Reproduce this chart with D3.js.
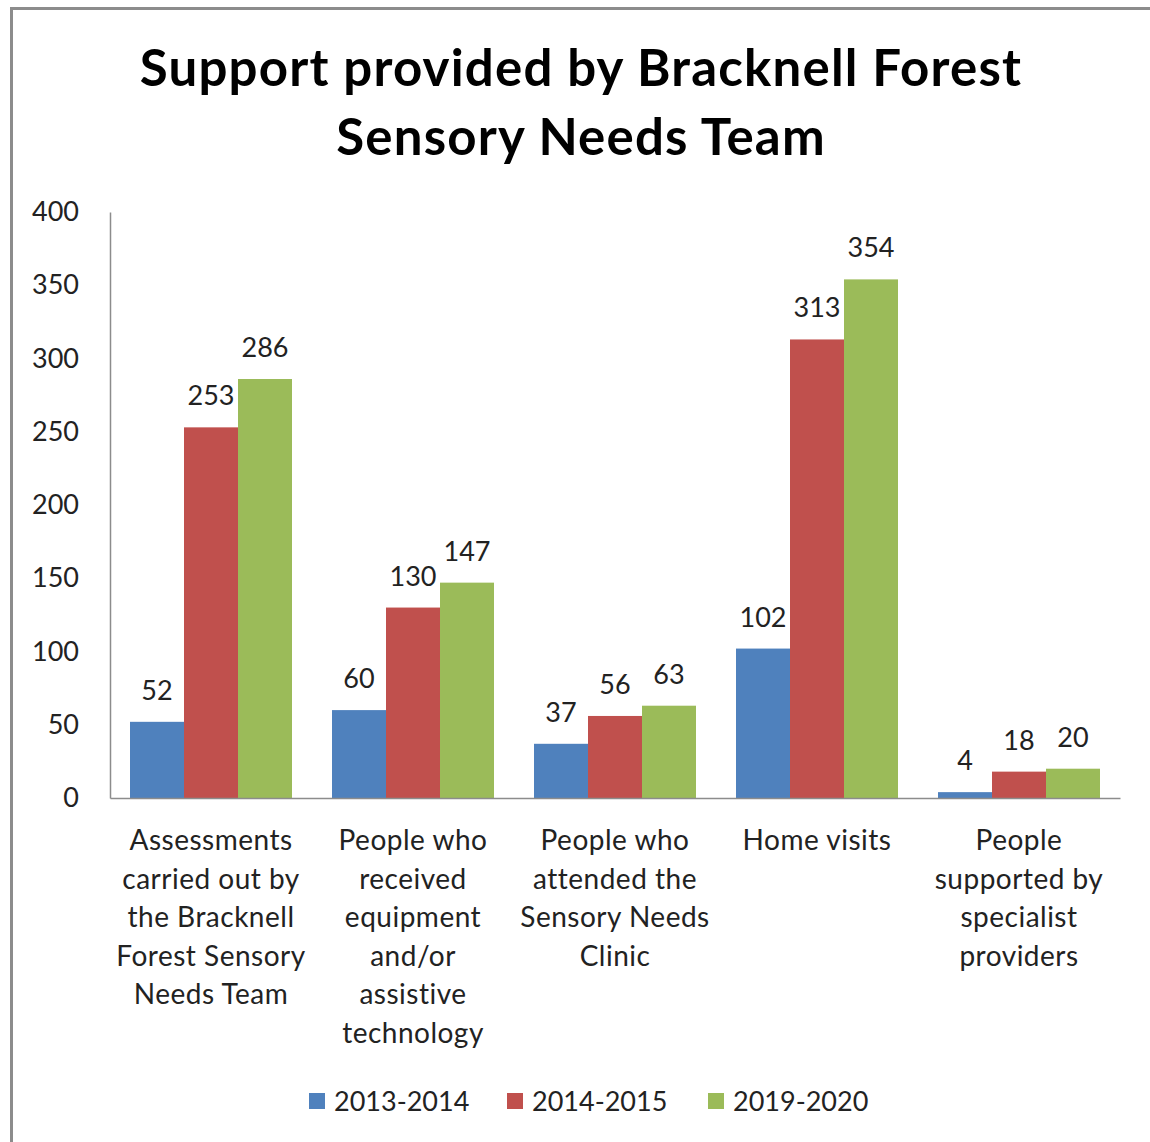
<!DOCTYPE html>
<html>
<head>
<meta charset="utf-8">
<script src="https://cdn.jsdelivr.net/npm/d3@7"></script>
<style>
  html, body { margin: 0; padding: 0; background: #fff; }
  svg { display: block; }
  text { font-family: Lato, "Open Sans", sans-serif; }
</style>
</head>
<body>
<svg id="chart" width="1150" height="1142"></svg>
<script>
// ---- data ----
const categories = [
  ["Assessments", "carried out by", "the Bracknell", "Forest Sensory", "Needs Team"],
  ["People who", "received", "equipment", "and/or", "assistive", "technology"],
  ["People who", "attended the", "Sensory Needs", "Clinic"],
  ["Home visits"],
  ["People", "supported by", "specialist", "providers"]
];
const seriesNames = ["2013-2014", "2014-2015", "2019-2020"];
const values2013 = [52, 60, 37, 102, 4];
const values2014 = [253, 130, 56, 313, 18];
const values2019 = [286, 147, 63, 354, 20];
const yTicks = [0, 50, 100, 150, 200, 250, 300, 350, 400];
const titleLines = ["Support provided by Bracknell Forest", "Sensory Needs Team"];
const colors = ["#4F81BD", "#C0504D", "#9BBB59"];

const seriesValues = [values2013, values2014, values2019];

const svg = d3.select("#chart");

// frame
svg.append("rect")
  .attr("x", 11.5).attr("y", 8.5)
  .attr("width", 1200).attr("height", 1200)
  .attr("fill", "none").attr("stroke", "#8c8c8c").attr("stroke-width", 3);

// title
svg.append("g").selectAll("text").data(titleLines).join("text")
  .attr("x", 581).attr("y", (d, i) => 86 + i * 69)
  .attr("text-anchor", "middle")
  .attr("font-size", 51).attr("font-weight", "bold").attr("fill", "#000")
  .attr("letter-spacing", 1.2)
  .text(d => d);

// scales
const plotLeft = 110, plotRight = 1120, plotBottom = 798, plotTop = 212;
const x0 = d3.scaleBand().domain(d3.range(categories.length)).range([plotLeft, plotRight]).paddingInner(0).paddingOuter(0);
const x1 = d3.scaleBand().domain(d3.range(seriesNames.length)).range([20, x0.bandwidth() - 20]).padding(0);
const y = d3.scaleLinear().domain([0, 400]).range([plotBottom, plotTop]);

// y axis
const yAxis = d3.axisLeft(y).tickValues(yTicks).tickSize(0).tickPadding(31);
const gy = svg.append("g").attr("transform", `translate(${plotLeft},0)`).call(yAxis);
gy.select(".domain").attr("stroke", "#8c8c8c").attr("stroke-width", 1.5);
gy.selectAll(".tick text").attr("font-size", 27).attr("fill", "#222").attr("font-family", "Lato, sans-serif");

// bars
const groups = svg.append("g").selectAll("g").data(categories).join("g")
  .attr("transform", (d, i) => `translate(${x0(i)},0)`);

groups.each(function(cat, ci) {
  const g = d3.select(this);
  seriesValues.forEach((vals, si) => {
    g.append("rect")
      .attr("x", x1(si)).attr("width", x1.bandwidth())
      .attr("y", y(vals[ci])).attr("height", y(0) - y(vals[ci]))
      .attr("fill", colors[si]);
    g.append("text")
      .attr("x", x1(si) + x1.bandwidth() / 2)
      .attr("y", y(vals[ci]) - 22)
      .attr("text-anchor", "middle")
      .attr("font-size", 27).attr("fill", "#222")
      .text(vals[ci]);
  });
});

// x axis
const xAxis = d3.axisBottom(x0).tickSize(0).tickFormat("");
const gx = svg.append("g").attr("transform", `translate(0,${plotBottom})`).call(xAxis);
gx.select(".domain").attr("stroke", "#8c8c8c").attr("stroke-width", 1.5);

// category labels
svg.append("g").selectAll("text").data(categories).join("text")
  .attr("text-anchor", "middle").attr("font-size", 28).attr("fill", "#222")
  .attr("letter-spacing", 0.5)
  .each(function(lines, i) {
    d3.select(this).selectAll("tspan").data(lines).join("tspan")
      .attr("x", x0(i) + x0.bandwidth() / 2)
      .attr("y", (d, j) => 850 + j * 38.6)
      .text(d => d);
  });

// legend
const legendX = [309, 507, 708];
const legend = svg.append("g").selectAll("g").data(seriesNames).join("g")
  .attr("transform", (d, i) => `translate(${legendX[i]},0)`);
legend.append("rect").attr("x", 0).attr("y", 1093).attr("width", 16).attr("height", 16)
  .attr("fill", (d, i) => colors[i]);
legend.append("text").attr("x", 25).attr("y", 1111)
  .attr("font-size", 27).attr("fill", "#222").text(d => d);
</script>
</body>
</html>
